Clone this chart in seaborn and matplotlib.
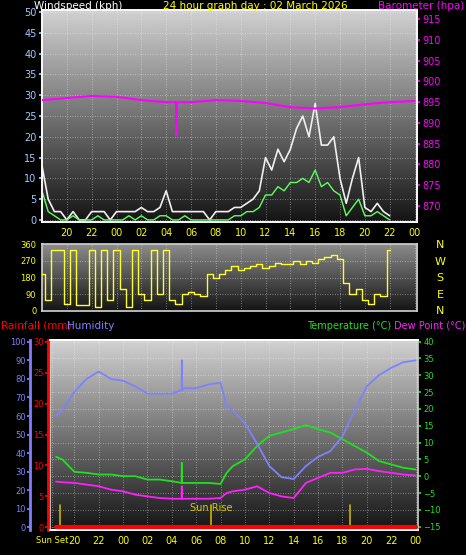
import numpy as np
import pandas as pd
import matplotlib
matplotlib.use("Agg")
import matplotlib.pyplot as plt
import seaborn as sns

sns.set_theme(style="dark")
plt.rcParams['font.family'] = ['DejaVu Sans']

# ---- data (hours since 00:00 of day before; 24 = midnight) ----
wind_hours = [18 + 0.5 * i for i in range(57)]
wind_gust = [13, 5, 2, 2, 0, 2, 0, 0, 2, 2, 2, 0, 2, 2, 2, 2, 3, 2, 2, 3, 7, 2, 2, 2, 2, 2, 2, 0, 2, 2, 2, 3,
             3, 4, 5, 7, 15, 12, 17, 14, 17, 22, 25, 20, 28, 18, 18, 20, 10, 4, 10, 15, 3, 2, 4, 2, 1]
wind_avg = [7, 2, 1, 0, 0, 1, 0, 0, 0, 1, 0, 0, 0, 0, 1, 0, 1, 0, 0, 1, 1, 0, 0, 1, 0, 0, 0, 0, 0, 0, 0, 1,
            1, 2, 2, 3, 6, 6, 8, 7, 9, 9, 10, 9, 12, 8, 9, 7, 6, 1, 3, 5, 1, 1, 2, 1, 0]
baro_hours = [18, 20, 22, 24, 26, 28, 28.8, 28.82, 28.84, 30, 32, 34, 36, 38, 40, 42, 44, 46, 48]
baro = [895.5, 896, 896.5, 896.3, 895.5, 895, 895, 887, 895, 895, 895.5, 895.3, 894.8, 893.8, 893.5, 893.8, 894.5, 895, 895.3]

dir_hours = [18 + 0.5 * i for i in range(57)]
wind_dir = [200, 60, 330, 330, 40, 330, 30, 30, 330, 20, 330, 60, 330, 120, 20, 330, 90, 60, 330, 90, 330, 60,
            40, 90, 100, 90, 80, 200, 180, 200, 220, 240, 220, 230, 240, 250, 230, 240, 260, 250, 250, 270, 250,
            270, 260, 280, 290, 300, 280, 150, 90, 120, 60, 40, 90, 80, 330]

bot_hours = [18.5, 19, 20, 21, 22, 23, 24, 25, 26, 27, 28, 28.8, 28.82, 28.84, 29, 30, 31, 32, 32.5, 33, 34, 35,
             36, 37, 38, 39, 40, 41, 42, 43, 44, 45, 46, 47, 48]
humidity = [60, 63, 73, 80, 84, 80, 79, 76, 72, 72, 72, 74, 90, 74, 75, 75, 77, 78, 65, 63, 56, 45,
            33, 27, 26, 33, 38, 41, 49, 63, 76, 82, 86, 89, 90]
temperature = [5.8, 5, 1.3, 1, 0.5, 0.5, 0, 0, -1, -1, -1.5, -2, 4, -2, -2, -2, -2, -2.3, 1, 3, 5, 9,
               12, 13, 14, 15.2, 14, 13, 11, 9, 7, 4.5, 3.5, 2.5, 2]
dewpoint = [-1.6, -1.8, -2, -2.5, -3, -4, -4.5, -5.5, -6, -6.5, -6.7, -6.7, -3, -6.7, -6.7, -6.7, -6.7, -6.5, -5, -4.5, -4, -3,
            -5, -6, -6.5, -2, -0.5, 1, 1, 2, 2.2, 1.5, 1, 0.5, 0.2]
rain_hours = [18.5, 48]
rain = [0, 0]
sun_events = [18.8, 31.2, 42.65]

hour_ticks = list(range(20, 49, 2))
hour_labels = ["%02d" % (h % 24) for h in hour_ticks]

W, H = 466, 555
fig = plt.figure(figsize=(W / 100, H / 100), dpi=100, facecolor='black')

def box(x0, y0, x1, y1):
    return [x0 / W, 1 - y1 / H, (x1 - x0) / W, (y1 - y0) / H]

def background(ax, top=0.82, bot=0.08):
    grad = np.linspace(bot, top, 256).reshape(-1, 1)
    ax.imshow(grad, aspect='auto', extent=[0, 1, 0, 1], transform=ax.transAxes, cmap='gray',
              vmin=0, vmax=1, origin='lower', zorder=0)
    ax.grid(True, color='white', linestyle=(0, (1, 2)), linewidth=0.6, alpha=0.5)
    for s in ax.spines.values():
        s.set_color('#cccccc')

ylab = '#ffff00'
# ---- top panel ----
ax1 = fig.add_axes(box(42, 10, 417, 222))
background(ax1)
sns.lineplot(x=wind_hours, y=wind_gust, ax=ax1, color='#f0f0f0', linewidth=1.2, zorder=3)
sns.lineplot(x=wind_hours, y=wind_avg, ax=ax1, color='#60ff60', linewidth=1.0, zorder=4)
ax1.set_xlim(18, 48.2)
ax1.set_ylim(-0.5, 50.5)
ax1.set_yticks(range(0, 51, 5))
ax1.set_xticks(hour_ticks)
ax1.set_xticklabels(hour_labels)
ax1.tick_params(axis='x', colors=ylab, labelsize=7, length=2, pad=2)
ax1.tick_params(axis='y', colors='#a8c8ff', labelsize=7, length=2, pad=2)
ax1b = ax1.twinx()
sns.lineplot(x=baro_hours, y=baro, ax=ax1b, color='#ff00ff', linewidth=1.5, zorder=5)
ax1b.set_ylim(866.15, 917.2)
ax1b.set_yticks(range(870, 916, 5))
ax1b.tick_params(axis='y', colors='#ff00ff', labelsize=7, length=2, pad=2)
ax1.tick_params(axis='y', left=True, labelleft=True, right=False, labelright=False)
for a in (ax1, ax1b):
    a.set_xlabel('')
    a.set_ylabel('')
fig.text(34 / W, 1 - 6 / H, 'Windspeed (kph)', color='white', fontsize=7.5, va='center')
fig.text(255 / W, 1 - 6 / H, '24 hour graph day : 02 March 2026', color=ylab, fontsize=7.5, va='center', ha='center')
fig.text(464 / W, 1 - 6 / H, 'Barometer (hpa)', color='#ff00ff', fontsize=7.5, va='center', ha='right')

# ---- middle panel ----
ax2 = fig.add_axes(box(42, 244, 417, 311))
background(ax2, top=0.55, bot=0.08)
sns.lineplot(x=dir_hours, y=wind_dir, ax=ax2, color='#ffff30', linewidth=1.0, drawstyle='steps-mid', zorder=3)
ax2.set_xlim(18, 48.2)
ax2.set_ylim(0, 360)
ax2.set_yticks([0, 90, 180, 270, 360])
ax2.set_xticks(hour_ticks)
ax2.set_xticklabels([])
ax2.tick_params(axis='y', colors=ylab, labelsize=6, length=2, pad=2)
ax2.tick_params(axis='x', length=0)
ax2.set_xlabel('')
ax2.set_ylabel('')
for i, lab in enumerate(['N', 'W', 'S', 'E', 'N']):
    fig.text(440 / W, 1 - (245 + i * 16.5) / H, lab, color=ylab, fontsize=8, va='center', ha='center')

# ---- bottom panel ----
ax3 = fig.add_axes(box(50, 340, 418, 530))
background(ax3)
sns.lineplot(x=bot_hours, y=temperature, ax=ax3, color='#20e020', linewidth=1.3, zorder=4)
sns.lineplot(x=bot_hours, y=dewpoint, ax=ax3, color='#ff20ff', linewidth=1.3, zorder=4)
ax3.set_ylim(-16, 40.5)
ax3.set_yticks(range(-15, 41, 5))
ax3.set_xlim(18, 48.2)
ax3.set_xticks([18.2] + hour_ticks)
ax3.set_xticklabels(['Sun Set'] + hour_labels)
ax3.tick_params(axis='x', colors=ylab, labelsize=7, length=2, pad=2)
for t in ax3.get_xticklabels()[:1]:
    t.set_fontsize(6)
for x in sun_events:
    ax3.axvline(x, ymin=0.02, ymax=0.13, color='#c8b400', linewidth=1.2, zorder=3)
ax3.text(31.2, -9.5, 'Sun Rise', color='#d8c800', fontsize=7, ha='center', va='center', zorder=5)

ax3h = ax3.twinx()
sns.lineplot(x=bot_hours, y=humidity, ax=ax3h, color='#8080ff', linewidth=1.3, zorder=4)
ax3h.set_ylim(-1.5, 101)
ax3h.set_yticks(range(0, 101, 10))

ax3r = ax3.twinx()
sns.lineplot(x=rain_hours, y=rain, ax=ax3r, color='#ff0000', linewidth=3, zorder=5)
ax3r.set_ylim(-0.45, 30.3)
ax3r.set_yticks(range(0, 31, 5))

# axis sides (after twinx, which resets the parent's tick side)
ax3.yaxis.set_ticks_position('right')
ax3.yaxis.set_label_position('right')
ax3.tick_params(axis='y', colors='#20e020', labelsize=6, length=2, pad=2,
                left=False, labelleft=False, right=True, labelright=True)
for a, col, off in ((ax3h, '#7f7fff', 14.4), (ax3r, '#ff0000', 1.5)):
    a.yaxis.set_ticks_position('left')
    a.spines['left'].set_visible(True)
    a.spines['left'].set_position(('outward', off))
    a.spines['left'].set_color(col)
    a.spines['left'].set_linewidth(2)
    a.spines['right'].set_visible(False)
    a.tick_params(axis='y', colors=col, labelsize=6, length=2, pad=1,
                  left=True, labelleft=True, right=False, labelright=False)
for a in (ax3, ax3h, ax3r):
    a.set_xlabel('')
    a.set_ylabel('')

fig.text(1 / W, 1 - 326 / H, 'Rainfall (mm)', color='#ff0000', fontsize=7.5, va='center')
fig.text(67 / W, 1 - 326 / H, 'Humidity', color='#8080ff', fontsize=7.5, va='center')
fig.text(391 / W, 1 - 326 / H, 'Temperature (°C)', color='#20e020', fontsize=7, va='center', ha='right')
fig.text(465 / W, 1 - 326 / H, 'Dew Point (°C)', color='#ff20ff', fontsize=7, va='center', ha='right')

fig.savefig('out.png', dpi=100, facecolor='black')
